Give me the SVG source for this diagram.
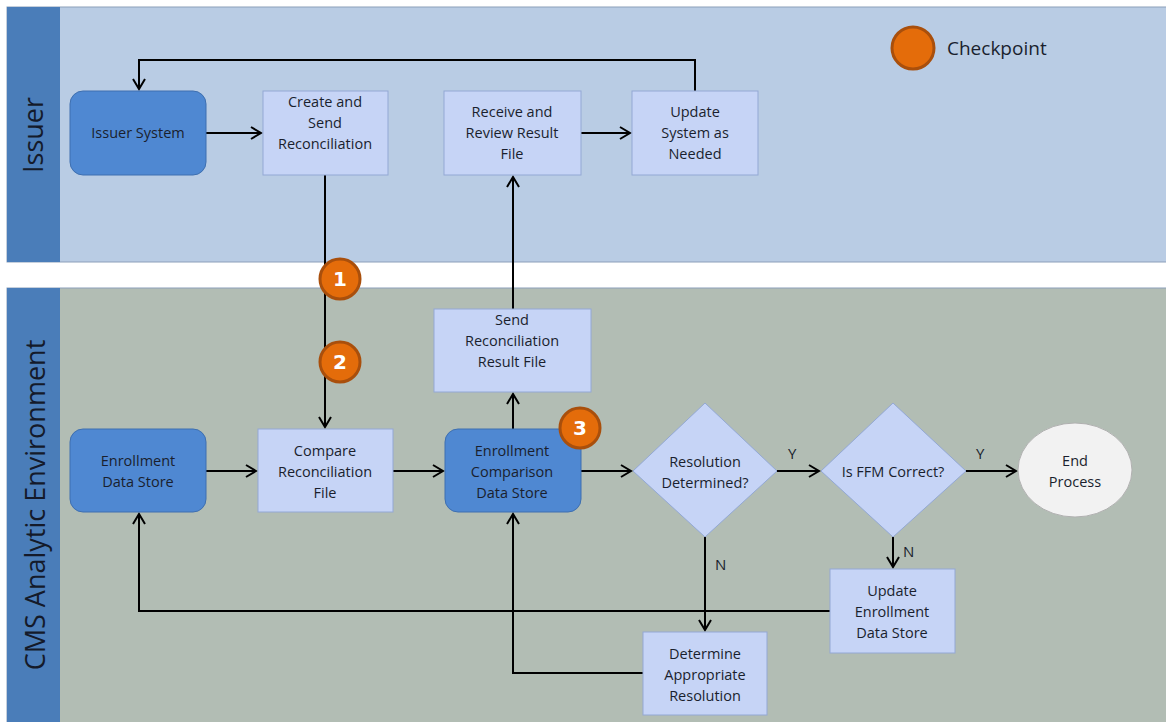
<svg xmlns="http://www.w3.org/2000/svg" width="1166" height="722" viewBox="0 0 1166 722">
<defs>
<marker id="arr" markerWidth="14" markerHeight="14" refX="11" refY="7" orient="auto" markerUnits="userSpaceOnUse">
<path d="M1,1 L11,7 L1,13" fill="none" stroke="#000" stroke-width="2"/>
</marker>
</defs>
<style>
text{font-family:"Open Sans","Noto Sans","DejaVu Sans",sans-serif;fill:#1a1f2e;}
.t{font-size:14.5px;text-anchor:middle;}
.lbl{font-size:15px;}
.light{fill:#c6d4f6;stroke:#93a8d4;stroke-width:1;}
.dark{fill:#4f88d2;stroke:#3e6fb0;stroke-width:1;}
.conn{fill:none;stroke:#000;stroke-width:2;}
.cp{fill:#e46c0a;stroke:#a94f0c;stroke-width:3;}
.cpn{font-family:"DejaVu Sans",sans-serif;font-weight:bold;font-size:20px;fill:#fff;text-anchor:middle;}
.lane{font-size:27px;text-anchor:middle;fill:#141a2a;}
</style>
<rect width="1166" height="722" fill="#ffffff"/>
<g id="lane-issuer">
<rect x="7" y="7" width="1166" height="255" fill="#b9cce4" stroke="#8c9fba" stroke-width="1"/>
<rect x="7" y="7" width="53" height="255" fill="#4a7db9"/>
<text class="lane" transform="translate(43,135) rotate(-90)">Issuer</text>
</g>
<g id="lane-cms">
<rect x="7" y="288" width="1166" height="440" fill="#b2bdb4" stroke="#8c9fba" stroke-width="1"/>
<rect x="7" y="288" width="53" height="440" fill="#4a7db9"/>
<text class="lane" transform="translate(45,505) rotate(-90)">CMS Analytic Environment</text>
</g>
<g id="connectors">
<path class="conn" d="M695,91 V60 H139 V89" marker-end="url(#arr)"/>
<path class="conn" d="M206,133 H261" marker-end="url(#arr)"/>
<path class="conn" d="M581,133 H630" marker-end="url(#arr)"/>
<path class="conn" d="M325,175 V427" marker-end="url(#arr)"/>
<path class="conn" d="M206,471 H256" marker-end="url(#arr)"/>
<path class="conn" d="M393,471 H443" marker-end="url(#arr)"/>
<path class="conn" d="M513,429 V394" marker-end="url(#arr)"/>
<path class="conn" d="M513,309 V177" marker-end="url(#arr)"/>
<path class="conn" d="M581,471 H631" marker-end="url(#arr)"/>
<path class="conn" d="M777,471 H819" marker-end="url(#arr)"/>
<path class="conn" d="M966,471 H1016" marker-end="url(#arr)"/>
<path class="conn" d="M893,537 V567" marker-end="url(#arr)"/>
<path class="conn" d="M705,537 V630" marker-end="url(#arr)"/>
<path class="conn" d="M830,611 H139 V514" marker-end="url(#arr)"/>
<path class="conn" d="M643,673 H513 V514" marker-end="url(#arr)"/>
<text class="lbl" x="788" y="459">Y</text>
<text class="lbl" x="976" y="459">Y</text>
<text class="lbl" x="903" y="557">N</text>
<text class="lbl" x="715" y="570">N</text>
</g>
<g id="issuer-system">
<rect class="dark" x="70" y="91" width="136" height="84" rx="13"/>
<text class="t" x="138" y="138">Issuer System</text>
</g>
<g id="create-send">
<rect class="light" x="263" y="91" width="125" height="84"/>
<text class="t" x="325" y="107">Create and</text>
<text class="t" x="325" y="128">Send</text>
<text class="t" x="325" y="149">Reconciliation</text>
</g>
<g id="receive-review">
<rect class="light" x="444" y="91" width="137" height="84"/>
<text class="t" x="512" y="117">Receive and</text>
<text class="t" x="512" y="138">Review Result</text>
<text class="t" x="512" y="159">File</text>
</g>
<g id="update-system">
<rect class="light" x="632" y="91" width="126" height="84"/>
<text class="t" x="695" y="117">Update</text>
<text class="t" x="695" y="138">System as</text>
<text class="t" x="695" y="159">Needed</text>
</g>
<g id="legend">
<circle class="cp" cx="913" cy="48" r="21"/>
<text x="947" y="55" style="font-size:19px">Checkpoint</text>
</g>
<g id="enrollment-data-store">
<rect class="dark" x="70" y="429" width="136" height="83" rx="13"/>
<text class="t" x="138" y="466">Enrollment</text>
<text class="t" x="138" y="487">Data Store</text>
</g>
<g id="compare">
<rect class="light" x="258" y="429" width="135" height="83"/>
<text class="t" x="325" y="456">Compare</text>
<text class="t" x="325" y="477">Reconciliation</text>
<text class="t" x="325" y="498">File</text>
</g>
<g id="enrollment-comparison">
<rect class="dark" x="445" y="429" width="136" height="83" rx="13"/>
<text class="t" x="512" y="456">Enrollment</text>
<text class="t" x="512" y="477">Comparison</text>
<text class="t" x="512" y="498">Data Store</text>
</g>
<g id="send-result">
<rect class="light" x="434" y="309" width="157" height="83"/>
<text class="t" x="512" y="325">Send</text>
<text class="t" x="512" y="346">Reconciliation</text>
<text class="t" x="512" y="367">Result File</text>
</g>
<g id="resolution-determined">
<polygon class="light" points="705,403 777,471 705,537 633,471"/>
<text class="t" x="705" y="467">Resolution</text>
<text class="t" x="705" y="488">Determined?</text>
</g>
<g id="is-ffm-correct">
<polygon class="light" points="893,403 966,471 893,537 821,471"/>
<text class="t" x="893" y="477">Is FFM Correct?</text>
</g>
<g id="end-process">
<ellipse cx="1075" cy="470" rx="57" ry="47" fill="#f2f2f2" stroke="#b0b0b0" stroke-width="1"/>
<text class="t" x="1075" y="466">End</text>
<text class="t" x="1075" y="487">Process</text>
</g>
<g id="update-enrollment">
<rect class="light" x="830" y="569" width="125" height="84"/>
<text class="t" x="892" y="596">Update</text>
<text class="t" x="892" y="617">Enrollment</text>
<text class="t" x="892" y="638">Data Store</text>
</g>
<g id="determine-resolution">
<rect class="light" x="643" y="632" width="124" height="83"/>
<text class="t" x="705" y="659">Determine</text>
<text class="t" x="705" y="680">Appropriate</text>
<text class="t" x="705" y="701">Resolution</text>
</g>
<g id="checkpoint-1">
<circle class="cp" cx="340" cy="279" r="20"/>
<text class="cpn" x="340" y="286">1</text>
</g>
<g id="checkpoint-2">
<circle class="cp" cx="340" cy="362" r="20"/>
<text class="cpn" x="340" y="369">2</text>
</g>
<g id="checkpoint-3">
<circle class="cp" cx="580" cy="428" r="20"/>
<text class="cpn" x="580" y="435">3</text>
</g>
</svg>
